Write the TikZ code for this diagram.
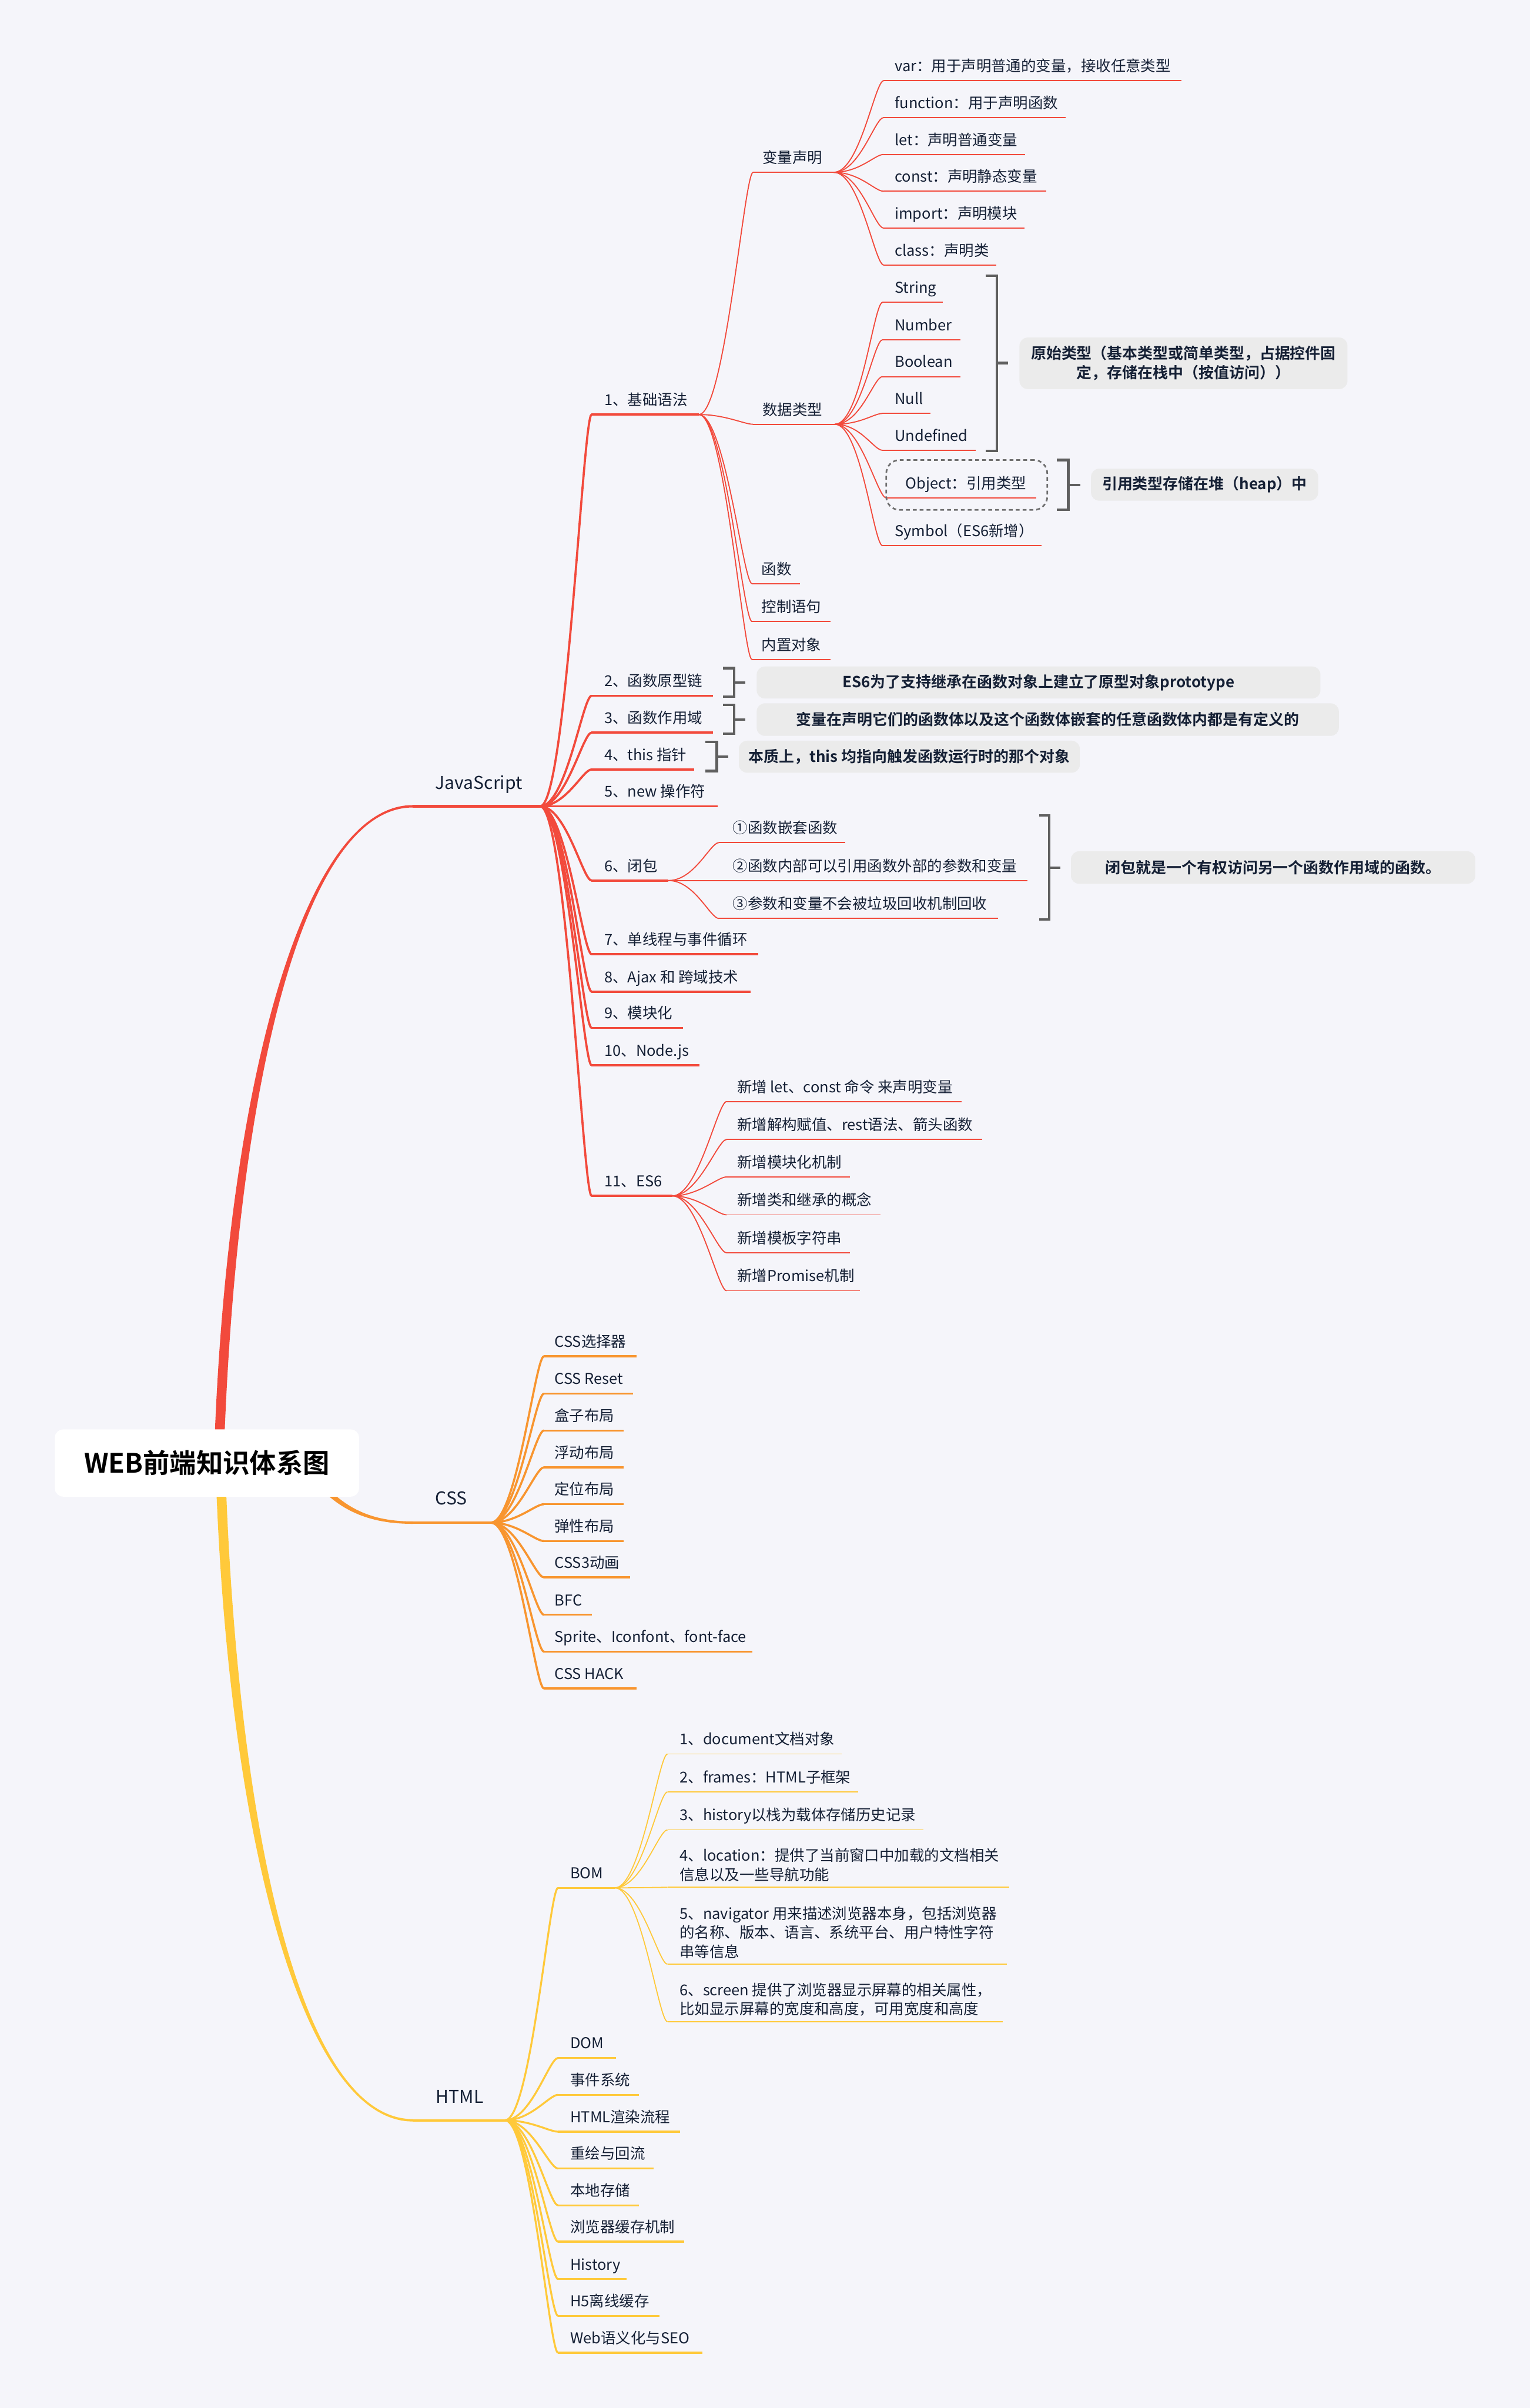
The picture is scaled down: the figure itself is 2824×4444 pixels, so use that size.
\documentclass[tikz,border=0pt]{standalone}
\usepackage{fontspec}
\setmainfont{Noto Sans CJK SC}[BoldFont={Noto Sans CJK SC Bold}]
\usetikzlibrary{calc}
\definecolor{bg}{HTML}{F5F5FA}
\definecolor{jsred}{HTML}{F24A3C}
\definecolor{cssor}{HTML}{F8952F}
\definecolor{htmly}{HTML}{FFC93A}
\definecolor{ink}{HTML}{152035}
\definecolor{callbg}{HTML}{EBEBEB}
\definecolor{brk}{HTML}{5F5F5F}
\tikzset{
  tx/.style={font=\fontsize{7.85}{9.96}\selectfont, text=ink, inner sep=0pt, anchor=base west},
  lonetx/.style={font=\fontsize{9.3}{11}\selectfont, text=ink, inner sep=0pt, anchor=base west},
  callout/.style={fill=callbg, rounded corners=4.3pt, font=\bfseries\fontsize{8}{10.2}\selectfont, text=ink, inner sep=0pt, align=center},
  rootbox/.style={fill=white, rounded corners=4.3pt, font=\bfseries\fontsize{14}{16}\selectfont, text=black, inner sep=0pt, minimum width=5.61cm, minimum height=1.24cm},
  jsLone/.style={draw=jsred, line width=1.25pt},
  jsLtwo/.style={draw=jsred, line width=1.14pt},
  jsLthree/.style={draw=jsred, line width=0.57pt},
  cssLone/.style={draw=cssor, line width=1.25pt},
  cssLtwo/.style={draw=cssor, line width=1.1pt},
  htLone/.style={draw=htmly, line width=1.25pt},
  htLtwo/.style={draw=htmly, line width=1.0pt},
  htLthree/.style={draw=htmly, line width=0.55pt},
  brkt/.style={draw=brk, line width=1.3pt},
  objbox/.style={draw=brk!90, line width=0.85pt, dash pattern=on 2pt off 1.6pt, rounded corners=7pt, inner sep=0pt, minimum width=2.97cm, minimum height=0.92cm}
}
\newcommand\mmoff{21}
\newcommand\mmtopic[6]{%
  \coordinate (#1-a) at (#2,#4);
  \coordinate (#1-b) at (#3,#4);
  \draw[#5] (#1-a) -- (#1-b);
  \node[tx] (#1) at ($(#1-a)+(\mmoff,-17)$) {#6};}
\newcommand\mmtopicM[6]{%
  \coordinate (#1-a) at (#2,#4);
  \coordinate (#1-b) at (#3,#4);
  \draw[#5] (#1-a) -- (#1-b);
  \node[tx, anchor=south west, align=left] (#1) at ($(#1-a)+(\mmoff,-10)$) {#6};}
\newcommand\mmconn[3]{\draw[#1] (#2-b) .. controls +(48,0) and +(-16,0) .. (#3-a);}
\begin{document}
\begin{tikzpicture}[x=0.01cm,y=-0.01cm]
\fill[bg] (0,0) rectangle (2824,4444);
\useasboundingbox (0,0) rectangle (2824,4444);

% ---------- level 1 ----------
\coordinate (js-a) at (762,1488); \coordinate (js-b) at (997,1488);
\coordinate (css-a) at (762,2810); \coordinate (css-b) at (906,2810);
\coordinate (html-a) at (762,3913); \coordinate (html-b) at (932,3913);
\draw[jsLone] (js-a) -- (js-b);
\draw[cssLone] (css-a) -- (css-b);
\draw[htLone] (html-a) -- (html-b);
\node[lonetx] (js) at ($(js-a)+(41,-32)$) {JavaScript};
\node[lonetx] (css) at ($(css-a)+(41,-33)$) {CSS};
\node[lonetx] (html) at ($(html-a)+(42,-32)$) {HTML};

% ---------- root branches (tapered) ----------
\coordinate (rJ) at (405,2660);
\coordinate (rH) at (408,2740);
\coordinate (rC) at (580,2725);
\fill[jsred] ($(rJ)+(-9,0)$) .. controls ($(rJ)+(16,-660)$) and ($(js-a)+(-202,-2.2)$) .. ($(js-a)+(0,-2.2)$)
  -- ($(js-a)+(0,2.2)$) .. controls ($(js-a)+(-202,2.2)$) and ($(rJ)+(34,-660)$) .. ($(rJ)+(9,0)$) -- cycle;
\fill[htmly] ($(rH)+(-9,0)$) .. controls ($(rH)+(16,660)$) and ($(html-a)+(-202,2.2)$) .. ($(html-a)+(0,2.2)$)
  -- ($(html-a)+(0,-2.2)$) .. controls ($(html-a)+(-202,-2.2)$) and ($(rH)+(34,660)$) .. ($(rH)+(9,0)$) -- cycle;
\fill[cssor] ($(rC)+(4,-3)$) .. controls ($(rC)+(54,62)$) and ($(css-a)+(-72,-2.2)$) .. ($(css-a)+(0,-2.2)$)
  -- ($(css-a)+(0,2.2)$) .. controls ($(css-a)+(-72,2.2)$) and ($(rC)+(46,68)$) .. ($(rC)+(-4,3)$) -- cycle;
\node[rootbox] (root) at (382,2700) {WEB前端知识体系图};

% ---------- JavaScript children ----------
\renewcommand\mmoff{23}
\mmtopic{jA}{1092}{1290}{765}{jsLtwo}{1、基础语法}
\mmtopic{jB}{1092}{1316}{1284}{jsLtwo}{2、函数原型链}
\mmtopic{jC}{1092}{1316}{1352}{jsLtwo}{3、函数作用域}
\mmtopic{jD}{1092}{1281}{1420}{jsLtwo}{4、this 指针}
\mmtopic{jE}{1092}{1325}{1488}{jsLtwo}{5、new 操作符}
\mmtopic{jF}{1092}{1234}{1625}{jsLtwo}{6、闭包}
\mmtopic{jG}{1092}{1400}{1761}{jsLtwo}{7、单线程与事件循环}
\mmtopic{jH}{1092}{1385}{1830}{jsLtwo}{8、Ajax 和 跨域技术}
\mmtopic{jI}{1092}{1261}{1897}{jsLtwo}{9、模块化}
\mmtopic{jJ}{1092}{1291}{1966}{jsLtwo}{10、Node.js}
\mmtopic{jK}{1092}{1241}{2207}{jsLtwo}{11、ES6}
\foreach \c in {jA,jB,jC,jD,jE,jF,jG,jH,jI,jJ,jK} {\mmconn{jsLtwo}{js}{\c}}

% 1、基础语法 children
\renewcommand\mmoff{17}
\mmtopic{jAv}{1390}{1539}{318}{jsLthree}{变量声明}
\mmtopic{jAd}{1390}{1541}{783}{jsLthree}{数据类型}
\mmtopic{jAf}{1388}{1477}{1077}{jsLthree}{函数}
\mmtopic{jAc}{1388}{1533}{1147}{jsLthree}{控制语句}
\mmtopic{jAn}{1388}{1533}{1217}{jsLthree}{内置对象}
\foreach \c in {jAv,jAd,jAf,jAc,jAn} {\mmconn{jsLthree}{jA}{\c}}

% 变量声明 children
\renewcommand\mmoff{20}
\mmtopic{va}{1631}{2181}{149}{jsLthree}{var：用于声明普通的变量，接收任意类型}
\mmtopic{vb}{1631}{1967}{217}{jsLthree}{function：用于声明函数}
\mmtopic{vc}{1631}{1892}{285}{jsLthree}{let：声明普通变量}
\mmtopic{vd}{1631}{1931}{353}{jsLthree}{const：声明静态变量}
\mmtopic{ve}{1631}{1891}{421}{jsLthree}{import：声明模块}
\mmtopic{vf}{1631}{1839}{489}{jsLthree}{class：声明类}
\foreach \c in {va,vb,vc,vd,ve,vf} {\mmconn{jsLthree}{jAv}{\c}}

% 数据类型 children
\renewcommand\mmoff{22}
\mmtopic{da}{1629}{1740}{558}{jsLthree}{String}
\mmtopic{db}{1629}{1773}{627}{jsLthree}{Number}
\mmtopic{dc}{1629}{1773}{695}{jsLthree}{Boolean}
\mmtopic{dd}{1629}{1717}{763}{jsLthree}{Null}
\mmtopic{de}{1629}{1801}{831}{jsLthree}{Undefined}
\renewcommand\mmoff{35}
\mmtopic{df}{1636}{1913}{919}{jsLthree}{Object：引用类型}
\renewcommand\mmoff{22}
\mmtopic{dg}{1629}{1922}{1007}{jsLthree}{Symbol（ES6新增）}
\foreach \c in {da,db,dc,dd,de,df,dg} {\mmconn{jsLthree}{jAd}{\c}}
\node[objbox] (objframe) at (1784.5,895) {};

% brackets and callouts for data types
\draw[brkt] (1819,509) -- (1840,509) -- (1840,832) -- (1819,832);
\draw[brkt] (1840,670) -- (1861,670);
\node[callout, minimum width=6.05cm, minimum height=0.95cm] (cbA) at (2184.5,670.5) {原始类型（基本类型或简单类型，占据控件固\\定，存储在栈中（按值访问））};
\draw[brkt] (1951,849) -- (1972,849) -- (1972,941) -- (1951,941);
\draw[brkt] (1972,895) -- (1994,895);
\node[callout, minimum width=4.19cm, minimum height=0.59cm] (cbB) at (2223.5,894.5) {引用类型存储在堆（heap）中};

% callouts for 2,3,4
\draw[brkt] (1335,1233) -- (1355,1233) -- (1355,1286) -- (1335,1286);
\draw[brkt] (1355,1260) -- (1376,1260);
\node[callout, minimum width=10.40cm, minimum height=0.59cm] (cbC) at (1917,1259.5) {ES6为了支持继承在函数对象上建立了原型对象prototype};
\draw[brkt] (1335,1301) -- (1355,1301) -- (1355,1354) -- (1335,1354);
\draw[brkt] (1355,1328) -- (1376,1328);
\node[callout, minimum width=10.74cm, minimum height=0.60cm] (cbD) at (1934,1328) {变量在声明它们的函数体以及这个函数体嵌套的任意函数体内都是有定义的};
\draw[brkt] (1302,1369) -- (1323,1369) -- (1323,1423) -- (1302,1423);
\draw[brkt] (1323,1396) -- (1344,1396);
\node[callout, minimum width=6.29cm, minimum height=0.59cm] (cbE) at (1678.5,1396.5) {本质上，this 均指向触发函数运行时的那个对象};

% 6、闭包 children
\renewcommand\mmoff{25}
\mmtopic{ca}{1327}{1560}{1555}{jsLthree}{①函数嵌套函数}
\mmtopic{cb}{1327}{1896}{1625}{jsLthree}{②函数内部可以引用函数外部的参数和变量}
\mmtopic{cc}{1327}{1842}{1695}{jsLthree}{③参数和变量不会被垃圾回收机制回收}
\foreach \c in {ca,cb,cc} {\mmconn{jsLthree}{jF}{\c}}
\draw[brkt] (1918,1505) -- (1937,1505) -- (1937,1697) -- (1918,1697);
\draw[brkt] (1937,1601) -- (1957,1601);
\node[callout, minimum width=7.46cm, minimum height=0.60cm] (cbF) at (2350,1601) {闭包就是一个有权访问另一个函数作用域的函数。};

% 11、ES6 children
\renewcommand\mmoff{19}
\mmtopic{ea}{1341}{1775}{2033}{jsLthree}{新增 let、const 命令 来声明变量}
\mmtopic{eb}{1341}{1813}{2103}{jsLthree}{新增解构赋值、rest语法、箭头函数}
\mmtopic{ec}{1341}{1569}{2172}{jsLthree}{新增模块化机制}
\mmtopic{ed}{1341}{1625}{2242}{jsLthree}{新增类和继承的概念}
\mmtopic{ee}{1341}{1569}{2312}{jsLthree}{新增模板字符串}
\mmtopic{ef}{1341}{1587}{2382}{jsLthree}{新增Promise机制}
\foreach \c in {ea,eb,ec,ed,ee,ef} {\mmconn{jsLthree}{jK}{\c}}

% ---------- CSS children ----------
\renewcommand\mmoff{19}
\mmtopic{sa}{1004}{1175}{2503}{cssLtwo}{CSS选择器}
\mmtopic{sb}{1004}{1169}{2572}{cssLtwo}{CSS Reset}
\mmtopic{sc}{1004}{1151}{2640}{cssLtwo}{盒子布局}
\mmtopic{sd}{1004}{1151}{2708}{cssLtwo}{浮动布局}
\mmtopic{se}{1004}{1151}{2776}{cssLtwo}{定位布局}
\mmtopic{sf}{1004}{1151}{2844}{cssLtwo}{弹性布局}
\mmtopic{sg}{1004}{1163}{2911}{cssLtwo}{CSS3动画}
\mmtopic{sh}{1004}{1093}{2980}{cssLtwo}{BFC}
\mmtopic{si}{1004}{1389}{3048}{cssLtwo}{Sprite、Iconfont、font-face}
\mmtopic{sj}{1004}{1175}{3116}{cssLtwo}{CSS HACK}
\foreach \c in {sa,sb,sc,sd,se,sf,sg,sh,si,sj} {\mmconn{cssLtwo}{css}{\c}}

% ---------- HTML children ----------
\renewcommand\mmoff{22}
\mmtopic{ha}{1030}{1135}{3484}{htLtwo}{BOM}
\mmtopic{hb}{1030}{1137}{3798}{htLtwo}{DOM}
\mmtopic{hc}{1030}{1179}{3866}{htLtwo}{事件系统}
\mmtopic{hd}{1030}{1255}{3934}{htLtwo}{HTML渲染流程}
\mmtopic{he}{1030}{1207}{4002}{htLtwo}{重绘与回流}
\mmtopic{hf}{1030}{1179}{4070}{htLtwo}{本地存储}
\mmtopic{hg}{1030}{1263}{4137}{htLtwo}{浏览器缓存机制}
\mmtopic{hh}{1030}{1157}{4206}{htLtwo}{History}
\mmtopic{hi}{1030}{1217}{4274}{htLtwo}{H5离线缓存}
\mmtopic{hj}{1030}{1297}{4342}{htLtwo}{Web语义化与SEO}
\foreach \c in {ha,hb,hc,hd,he,hf,hg,hh,hi,hj} {\mmconn{htLtwo}{html}{\c}}

% BOM children
\renewcommand\mmoff{22}
\mmtopic{ba}{1232}{1554}{3237}{htLthree}{1、document文档对象}
\mmtopic{bb}{1232}{1584}{3307}{htLthree}{2、frames：HTML子框架}
\mmtopic{bc}{1232}{1704}{3377}{htLthree}{3、history以栈为载体存储历史记录}
\mmtopicM{bd}{1232}{1863}{3483}{htLthree}{4、location：提供了当前窗口中加载的文档相关\\信息以及一些导航功能}
\mmtopicM{be}{1232}{1859}{3625}{htLthree}{5、navigator 用来描述浏览器本身，包括浏览器\\的名称、版本、语言、系统平台、用户特性字符\\串等信息}
\mmtopicM{bf}{1232}{1851}{3731}{htLthree}{6、screen 提供了浏览器显示屏幕的相关属性，\\比如显示屏幕的宽度和高度，可用宽度和高度}
\foreach \c in {ba,bb,bc,bd,be,bf} {\mmconn{htLthree}{ha}{\c}}
\end{tikzpicture}
\end{document}
